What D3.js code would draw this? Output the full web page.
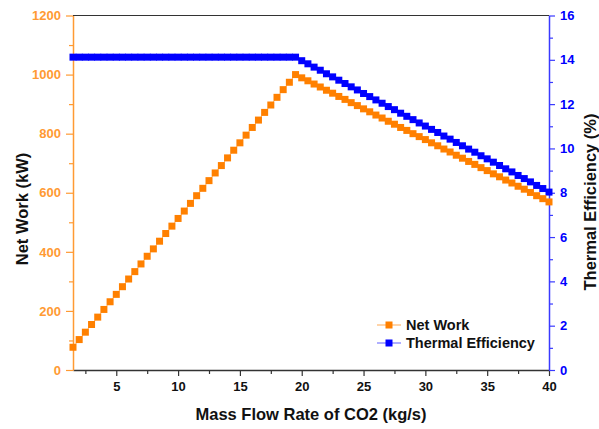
<!DOCTYPE html>
<html>
<head>
<meta charset="utf-8">
<script src="https://cdn.jsdelivr.net/npm/d3@7"></script>
<style>
  html, body { margin: 0; padding: 0; background: #fff; }
  svg { display: block; font-family: Arial, "Liberation Sans", sans-serif; }
</style>
</head>
<body>
<svg id="chart" width="599" height="429"></svg>
<script>
// Mass flow rate of CO2 (kg/s)
const massFlow = [
  1.5, 2, 2.5, 3, 3.5, 4, 4.5, 5, 5.5, 6, 6.5, 7, 7.5, 8, 8.5, 9, 9.5, 10,
  10.5, 11, 11.5, 12, 12.5, 13, 13.5, 14, 14.5, 15, 15.5, 16, 16.5, 17, 17.5,
  18, 18.5, 19, 19.5, 20, 20.5, 21, 21.5, 22, 22.5, 23, 23.5, 24, 24.5, 25,
  25.5, 26, 26.5, 27, 27.5, 28, 28.5, 29, 29.5, 30, 30.5, 31, 31.5, 32, 32.5,
  33, 33.5, 34, 34.5, 35, 35.5, 36, 36.5, 37, 37.5, 38, 38.5, 39, 39.5, 40
];

// Net work (kW)
const netWork = [
  77, 103, 128, 154, 179, 205, 231, 256, 282, 308, 333, 359, 385, 410, 436,
  462, 487, 513, 538, 564, 590, 615, 641, 667, 692, 718, 744, 769, 795, 821,
  846, 872, 897, 923, 949, 974, 1000,
  989, 979, 968, 958, 947, 937, 926, 916, 905, 895, 884, 874, 863, 853, 842,
  832, 821, 811, 800, 790, 780, 769, 759, 748, 738, 727, 717, 706, 696, 685,
  675, 664, 654, 643, 633, 622, 612, 601, 590, 580, 569
];

// Thermal efficiency (%)
const thermalEff = [
  14.12, 14.12, 14.12, 14.12, 14.12, 14.12, 14.12, 14.12, 14.12, 14.12,
  14.12, 14.12, 14.12, 14.12, 14.12, 14.12, 14.12, 14.12, 14.12, 14.12,
  14.12, 14.12, 14.12, 14.12, 14.12, 14.12, 14.12, 14.12, 14.12, 14.12,
  14.12, 14.12, 14.12, 14.12, 14.12, 14.12, 14.12,
  13.96, 13.82, 13.67, 13.53, 13.37, 13.23, 13.08, 12.93, 12.78, 12.64,
  12.48, 12.34, 12.19, 12.04, 11.89, 11.75, 11.59, 11.45, 11.30, 11.15,
  11.01, 10.86, 10.72, 10.56, 10.42, 10.27, 10.12, 9.97, 9.83, 9.67,
  9.53, 9.38, 9.23, 9.08, 8.94, 8.78, 8.64, 8.49, 8.33, 8.19, 8.03
];

const xTicks = [5, 10, 15, 20, 25, 30, 35, 40];
const xMinorTicks = [2.5, 7.5, 12.5, 17.5, 22.5, 27.5, 32.5, 37.5];
const leftTicks = [0, 200, 400, 600, 800, 1000, 1200];
const leftMinorTicks = [100, 300, 500, 700, 900, 1100];
const rightTicks = [0, 2, 4, 6, 8, 10, 12, 14, 16];
const rightMinorTicks = [1, 3, 5, 7, 9, 11, 13, 15];

const seriesNames = ["Net Work", "Thermal Efficiency"];

const ORANGE = "#ff8000";
const ORANGE_AXIS = "#ff9a33";
const ORANGE_LINE = "#ffb870";
const BLUE = "#0000ff";
const BLUE_AXIS = "#3a3aff";
const BLUE_LINE = "#7a7aff";
const DARK = "#333";

const margin = { left: 73, right: 50, top: 15.5, bottom: 59 };
const W = 599, H = 429;

const svg = d3.select("#chart");

const x = d3.scaleLinear().domain([1.5, 40]).range([margin.left, W - margin.right]);
const yL = d3.scaleLinear().domain([0, 1200]).range([H - margin.bottom, margin.top]);
const yR = d3.scaleLinear().domain([0, 16]).range([H - margin.bottom, margin.top]);

const x0 = x.range()[0], x1 = x.range()[1];
const yb = yL.range()[0], yt = yL.range()[1];
const fmt = d3.format("d");

// top frame line
svg.append("line")
  .attr("x1", x0).attr("x2", x1).attr("y1", yt).attr("y2", yt)
  .attr("stroke", DARK).attr("stroke-width", 1.2);

// bottom axis
const gx = svg.append("g").attr("transform", `translate(0,${yb})`);
gx.call(d3.axisBottom(x).tickValues(xMinorTicks).tickSize(4).tickFormat(""));
gx.call(g => g.select(".domain").remove());
const gx2 = svg.append("g").attr("transform", `translate(0,${yb})`)
  .call(d3.axisBottom(x).tickValues(xTicks).tickSize(6).tickPadding(6).tickSizeOuter(0).tickFormat(fmt));
[gx, gx2].forEach(g => {
  g.selectAll("line").attr("stroke", DARK).attr("stroke-width", 1.2);
  g.selectAll("path").attr("stroke", DARK).attr("stroke-width", 1.5);
  g.selectAll("text").attr("fill", "#111").attr("font-size", 13).attr("font-weight", "bold");
});

// left axis (net work)
const gl = svg.append("g").attr("transform", `translate(${x0},0)`);
gl.call(d3.axisLeft(yL).tickValues(leftMinorTicks).tickSize(4).tickFormat(""));
gl.select(".domain").remove();
const gl2 = svg.append("g").attr("transform", `translate(${x0},0)`)
  .call(d3.axisLeft(yL).tickValues(leftTicks).tickSize(7).tickPadding(5).tickSizeOuter(0).tickFormat(fmt));
[gl, gl2].forEach(g => {
  g.selectAll("line").attr("stroke", ORANGE_AXIS).attr("stroke-width", 1.2);
  g.selectAll("path").attr("stroke", ORANGE_AXIS).attr("stroke-width", 1.5);
  g.selectAll("text").attr("fill", ORANGE_AXIS).attr("font-size", 13).attr("font-weight", "bold");
});

// right axis (thermal efficiency)
const gr = svg.append("g").attr("transform", `translate(${x1},0)`);
gr.call(d3.axisRight(yR).tickValues(rightMinorTicks).tickSize(4).tickFormat(""));
gr.select(".domain").remove();
const gr2 = svg.append("g").attr("transform", `translate(${x1},0)`)
  .call(d3.axisRight(yR).tickValues(rightTicks).tickSize(6).tickPadding(5).tickSizeOuter(0).tickFormat(fmt));
[gr, gr2].forEach(g => {
  g.selectAll("line").attr("stroke", BLUE_AXIS).attr("stroke-width", 1.2);
  g.selectAll("path").attr("stroke", BLUE_AXIS).attr("stroke-width", 1.5);
  g.selectAll("text").attr("fill", BLUE).attr("font-size", 13).attr("font-weight", "bold");
});

// axis titles
svg.append("text")
  .attr("x", (x0 + x1) / 2).attr("y", 420)
  .attr("text-anchor", "middle").attr("font-size", 16.5).attr("font-weight", "bold").attr("fill", "#111")
  .text("Mass Flow Rate of CO2 (kg/s)");
svg.append("text")
  .attr("transform", "translate(28,209) rotate(-90)")
  .attr("text-anchor", "middle").attr("font-size", 16.5).attr("font-weight", "bold").attr("fill", "#111")
  .text("Net Work (kW)");
svg.append("text")
  .attr("transform", "translate(596,202) rotate(-90)")
  .attr("text-anchor", "middle").attr("font-size", 16.5).attr("font-weight", "bold").attr("fill", "#111")
  .text("Thermal Efficiency (%)");

// series
const rows = massFlow.map((m, i) => ({ m, w: netWork[i], e: thermalEff[i] }));
const plot = svg.append("g");
const MS = 7;

function drawSeries(yScale, key, lineColor, markColor) {
  plot.append("path")
    .datum(rows)
    .attr("fill", "none").attr("stroke", lineColor).attr("stroke-width", 1)
    .attr("d", d3.line().x(d => x(d.m)).y(d => yScale(d[key])));
  plot.append("g").selectAll("rect").data(rows).join("rect")
    .attr("x", d => x(d.m) - MS / 2).attr("y", d => yScale(d[key]) - MS / 2)
    .attr("width", MS).attr("height", MS).attr("fill", markColor);
}
drawSeries(yR, "e", BLUE_LINE, BLUE);
drawSeries(yL, "w", ORANGE_LINE, ORANGE);

// legend
const legend = svg.append("g").attr("transform", "translate(377,325)");
[[ORANGE_LINE, ORANGE], [BLUE_LINE, BLUE]].forEach(([lc, mc], i) => {
  const g = legend.append("g").attr("transform", `translate(0,${i * 18})`);
  g.append("line").attr("x1", 0).attr("x2", 24).attr("y1", 0).attr("y2", 0)
    .attr("stroke", lc).attr("stroke-width", 1.2);
  g.append("rect").attr("x", 12 - 3.5).attr("y", -3.5).attr("width", 7).attr("height", 7).attr("fill", mc);
  g.append("text").attr("x", 29).attr("y", 5)
    .attr("font-size", 14.5).attr("font-weight", "bold").attr("fill", "#111")
    .text(seriesNames[i]);
});
</script>
</body>
</html>
